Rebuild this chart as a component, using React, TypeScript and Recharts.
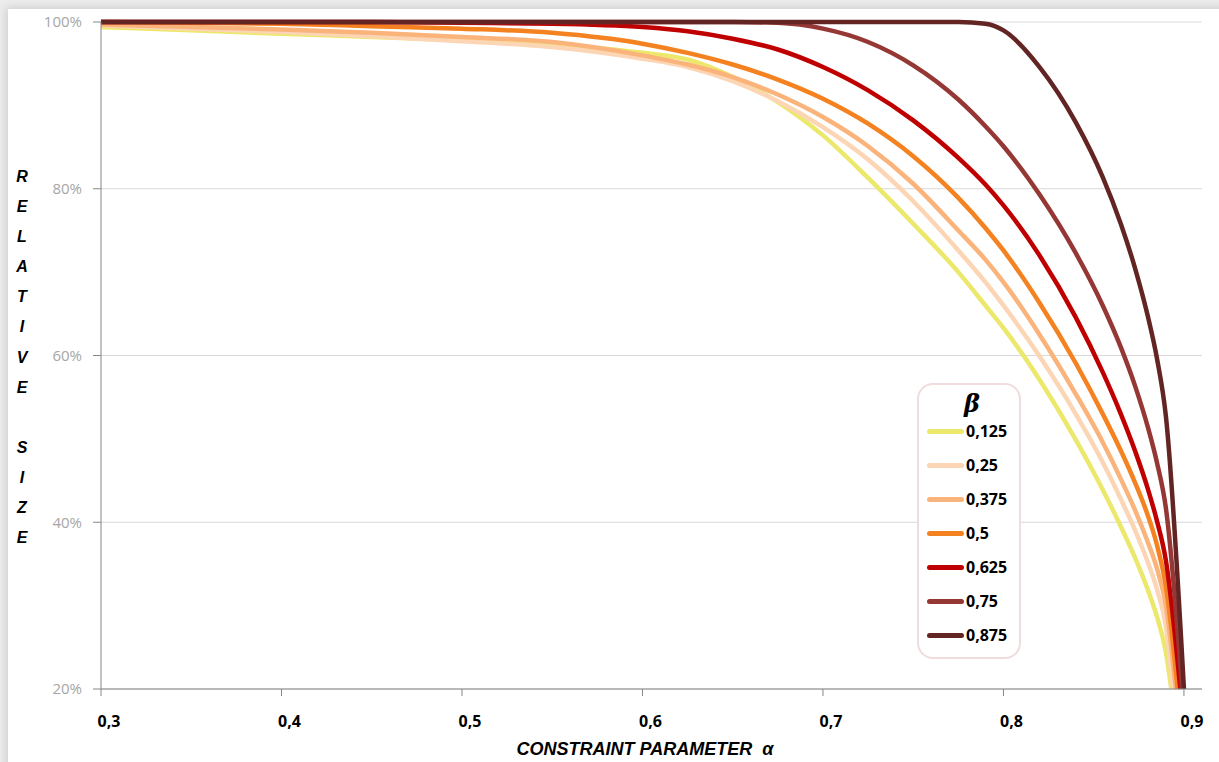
import React from 'react';
import { LineChart, Line, XAxis, YAxis, CartesianGrid, Legend } from 'recharts';

// constraint parameter alpha (shared grid)
const alpha = [0.3, 0.35, 0.4, 0.45, 0.5, 0.55, 0.6, 0.625, 0.65, 0.675, 0.7, 0.725, 0.75, 0.775, 0.79, 0.8, 0.82, 0.84, 0.855, 0.865, 0.873, 0.88, 0.885, 0.89];

const betaLabels = ['0,125', '0,25', '0,375', '0,5', '0,625', '0,75', '0,875'];
const betaColors = ['#ebe86c', '#fcd5b5', '#fab47b', '#f58220', '#c00000', '#953735', '#632523'];

// alpha at which each curve reaches the 20% floor
const alphaEnd = [0.893, 0.894, 0.8955, 0.8965, 0.898, 0.899, 0.9];

// relative size (%) per beta
const size0125 = [99.4, 99.0, 98.6, 98.2, 97.8, 97.3, 96.3, 95.5, 93.4, 90.4, 86.4, 81.3, 75.8, 70.0, 66.0, 63.3, 57.1, 49.9, 43.9, 39.5, 35.7, 31.9, 28.7, 24.4];
const size025 = [99.6, 99.2, 98.8, 98.3, 97.7, 97.0, 95.6, 94.6, 92.9, 90.5, 87.4, 83.5, 78.5, 72.6, 68.8, 66.0, 59.9, 53.0, 47.2, 42.8, 39.0, 35.2, 32.0, 27.5];
const size0375 = [99.7, 99.4, 99.1, 98.7, 98.2, 97.6, 96.0, 94.9, 93.4, 91.3, 88.6, 85.1, 80.6, 75.0, 71.5, 68.8, 62.5, 55.4, 49.6, 45.2, 41.4, 37.6, 34.5, 30.0];
const size05 = [100, 99.9, 99.8, 99.5, 99.2, 98.7, 97.4, 96.3, 94.9, 93.1, 90.8, 87.8, 83.9, 78.9, 75.3, 72.6, 66.3, 59.1, 53.0, 48.6, 44.7, 40.8, 37.3, 32.3];
const size0625 = [100, 100, 100, 100, 99.9, 99.8, 99.4, 98.9, 98.0, 96.7, 94.6, 91.8, 88.2, 83.7, 80.5, 78.0, 72.0, 64.6, 58.0, 53.0, 48.5, 44.0, 40.2, 35.4];
const size075 = [100, 100, 100, 100, 100, 100, 100, 100, 100, 99.9, 99.2, 97.6, 94.8, 90.7, 87.5, 85.1, 79.3, 72.3, 66.0, 61.0, 56.3, 51.4, 47.2, 41.7];
const size0875 = [100, 100, 100, 100, 100, 100, 100, 100, 100, 100, 100, 100, 100, 100, 99.8, 99.0, 94.6, 88.0, 81.4, 75.8, 70.4, 64.7, 59.7, 52.7];

const xTicks = [0.3, 0.4, 0.5, 0.6, 0.7, 0.8, 0.9];
const yTicks = [20, 40, 60, 80, 100];

const allSizes = [size0125, size025, size0375, size05, size0625, size075, size0875];

const series = allSizes.map((vals, i) => ({
  name: betaLabels[i],
  color: betaColors[i],
  data: [
    ...alpha.map((a, j) => ({ alpha: a, size: vals[j] })),
    { alpha: alphaEnd[i], size: 20 },
  ],
}));

const XTick = (props: any) => {
  const { x, y, payload } = props;
  return (
    <text x={x + 8} y={y} dy={29} textAnchor="middle" fontFamily="'Open Sans', sans-serif" fontWeight={700} fontSize={16} fill="#000">
      {String(payload.value).replace('.', ',')}
    </text>
  );
};

const renderLegend = (props: any) => {
  const { payload } = props;
  return (
    <div style={{ width: 104, height: 276, boxSizing: 'border-box', border: '2px solid #f0dcdc', borderRadius: 16, background: '#fff', position: 'relative' }}>
      <div style={{ position: 'absolute', left: 0, width: 106, top: 3, textAlign: 'center', fontFamily: "'DejaVu Serif', serif", fontStyle: 'italic', fontWeight: 700, fontSize: 24, lineHeight: '32px' }}>
        β
      </div>
      {payload.map((p: any, i: number) => (
        <div key={p.value} style={{ position: 'absolute', left: 8, top: 29 + i * 34, height: 34, display: 'flex', alignItems: 'center' }}>
          <span style={{ display: 'inline-block', width: 37, height: 5, borderRadius: 3, background: p.color }} />
          <span style={{ marginLeft: 2, fontFamily: "'Open Sans', sans-serif", fontWeight: 700, fontSize: 16, color: '#000' }}>{p.value}</span>
        </div>
      ))}
    </div>
  );
};

const yLabel = 'RELATIVE SIZE'.split('');

export default function App() {
  return (
    <div style={{ position: 'fixed', left: 0, top: 0, width: 1219, height: 762, overflow: 'hidden', background: '#ececec' }}>
      <div style={{ position: 'absolute', left: 8, top: 9, width: 1220, height: 770, background: '#fff', boxShadow: '0 0 8px 2px rgba(0,0,0,0.12)' }}>
        <LineChart width={1210} height={740} margin={{ top: 13, right: 16, bottom: 0, left: 0 }}>
          <CartesianGrid vertical={false} stroke="#d9d9d9" />
          <XAxis
            type="number"
            dataKey="alpha"
            domain={[0.3, 0.91]}
            ticks={xTicks}
            tickSize={7}
            height={60}
            stroke="#868686"
            tick={<XTick />}
            allowDuplicatedCategory={false}
          />
          <YAxis
            type="number"
            domain={[20, 100]}
            ticks={yTicks}
            width={93}
            tickSize={8}
            tickMargin={11}
            stroke="#868686"
            tickFormatter={(v: number) => `${v}%`}
            tick={{ fill: '#a6a6a6', fontSize: 15, fontFamily: "'Open Sans', sans-serif" }}
          />
          {series.map((s) => (
            <Line
              key={s.name}
              data={s.data}
              dataKey="size"
              name={s.name}
              type="monotone"
              stroke={s.color}
              strokeWidth={4.5}
              dot={false}
              activeDot={false}
              isAnimationActive={false}
            />
          ))}
          <Legend
            layout="vertical"
            align="center"
            verticalAlign="middle"
            content={renderLegend}
            wrapperStyle={{ left: 909, top: 374, width: 104, height: 276 }}
          />
        </LineChart>
      </div>
      <div style={{ position: 'absolute', left: 9, top: 162, width: 26, textAlign: 'center', fontFamily: "'Liberation Sans', sans-serif", fontStyle: 'italic', fontWeight: 700, fontSize: 16 }}>
        {yLabel.map((c, i) => (
          <div key={i} style={{ height: 30.1, lineHeight: '30.1px' }}>{c === ' ' ? '\u00a0' : c}</div>
        ))}
      </div>
      <div style={{ position: 'absolute', left: 445, width: 400, top: 739, lineHeight: '20px', textAlign: 'center', whiteSpace: 'pre', fontFamily: "'Liberation Sans', sans-serif", fontStyle: 'italic', fontWeight: 700, fontSize: 18 }}>
        {'CONSTRAINT PARAMETER  α'}
      </div>
    </div>
  );
}
